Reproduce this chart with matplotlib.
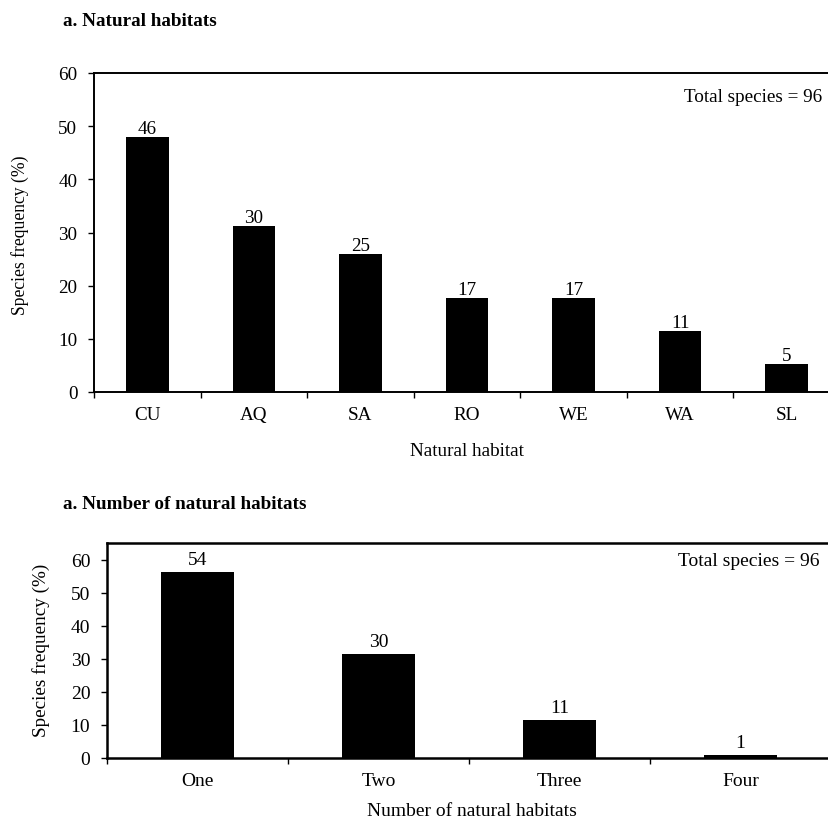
import matplotlib
matplotlib.use("Agg")
import matplotlib.pyplot as plt
import numpy as np

plt.rcParams['font.family'] = ['Liberation Serif', 'DejaVu Serif']

# Panel a: natural habitats
habitats = ['CU', 'AQ', 'SA', 'RO', 'WE', 'WA', 'SL']
habitat_pct = [47.9, 31.3, 26.0, 17.7, 17.7, 11.5, 5.2]
habitat_counts = [46, 30, 25, 17, 17, 11, 5]

# Panel b: number of natural habitats
n_habitats = ['One', 'Two', 'Three', 'Four']
n_habitat_pct = [56.3, 31.3, 11.5, 1.0]
n_habitat_counts = [54, 30, 11, 1]

W, H = 829, 820
fig = plt.figure(figsize=(W / 100, H / 100), dpi=100)


def fx(px):
    return px / W


def fy(py):
    return 1 - py / H


def draw_panel(ax, cats, vals, counts, ymax, fs, lw, tick_len, xpad, lab_off):
    x = np.arange(len(cats))
    ax.bar(x, vals, width=0.4, color='black', zorder=3)
    for xi, v, c in zip(x, vals, counts):
        ax.annotate(str(c), (xi, v), xytext=(0, lab_off), textcoords='offset points',
                    ha='center', va='bottom', fontsize=fs)
    ax.set_xlim(-0.5, len(cats) - 0.5)
    ax.set_ylim(0, ymax)
    ax.set_yticks(range(0, 61, 10))
    # Excel-style ticks sit between the categories
    ax.set_xticks(np.arange(-0.5, len(cats) - 0.5, 1.0))
    ax.set_xticklabels([])
    ax.set_xticks(x, minor=True)
    ax.set_xticklabels(cats, minor=True, fontsize=fs)
    ax.tick_params(axis='x', which='minor', length=0, pad=xpad)
    ax.tick_params(axis='x', which='major', length=tick_len, width=1, direction='out')
    ax.tick_params(axis='y', length=tick_len, width=1, direction='out', pad=8,
                   labelsize=fs)
    for s in ax.spines.values():
        s.set_linewidth(lw)
        s.set_color('black')


# top panel
ax1 = fig.add_axes([fx(94), fy(393), fx(840 - 94), fy(74) - fy(393)])
draw_panel(ax1, habitats, habitat_pct, habitat_counts, 60, 13.8, 1.4, 4, 10, 0)
ax1.set_xlabel('Natural habitat', fontsize=13.8)
ax1.xaxis.set_label_coords(fx(467), fy(452), transform=fig.transFigure)
ax1.xaxis.label.set_va('center')
ax1.set_ylabel('Species frequency (%)', fontsize=12.7)
ax1.yaxis.set_label_coords(fx(20), fy(235), transform=fig.transFigure)
ax1.yaxis.label.set_va('center')
fig.text(fx(822), fy(97), 'Total species = 96', fontsize=13.8,
         ha='right', va='center')
fig.text(fx(63), fy(21), 'a. Natural habitats', fontsize=13.8,
         fontweight='bold', ha='left', va='center')

# bottom panel
ax2 = fig.add_axes([fx(107), fy(759), fx(831 - 107), fy(544) - fy(759)])
draw_panel(ax2, n_habitats, n_habitat_pct, n_habitat_counts, 65, 14, 1.8, 4, 10, 3)
ax2.set_xlabel('Number of natural habitats', fontsize=14)
ax2.xaxis.set_label_coords(fx(472), fy(812), transform=fig.transFigure)
ax2.xaxis.label.set_va('center')
ax2.set_ylabel('Species frequency (%)', fontsize=13.8)
ax2.yaxis.set_label_coords(fx(41), fy(650), transform=fig.transFigure)
ax2.yaxis.label.set_va('center')
fig.text(fx(820), fy(562), 'Total species = 96', fontsize=14,
         ha='right', va='center')
fig.text(fx(63), fy(505), 'a. Number of natural habitats', fontsize=13.8,
         fontweight='bold', ha='left', va='center')

fig.savefig('out.png', dpi=100, facecolor='white')
